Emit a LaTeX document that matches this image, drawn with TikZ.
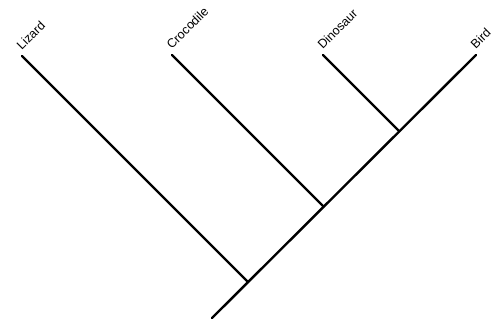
\documentclass[tikz,border=0pt]{standalone}
\usepackage{fontspec}
\setmainfont{Liberation Sans}
\begin{document}
\begin{tikzpicture}[x=1pt,y=-1pt,
  branch/.style={line width=2.4pt,line cap=round},
  taxon/.style={rotate=45,anchor=south west,inner sep=0pt,font=\fontsize{12.5}{14}\selectfont}]
\useasboundingbox (0,0) rectangle (501,325);
% tips
\coordinate (tL) at (22,56);
\coordinate (tC) at (172,55);
\coordinate (tD) at (323,55);
\coordinate (tB) at (476,55);
% internal nodes
\coordinate (nL) at (248,282);
\coordinate (nC) at (323.5,206.5);
\coordinate (nD) at (399,131);
\coordinate (root) at (212,318);
% branches
\draw[branch] (root) -- (tB);
\draw[branch] (tL) -- (nL);
\draw[branch] (tC) -- (nC);
\draw[branch] (tD) -- (nD);
% labels
\node[taxon] (lL) at ([xshift=0pt,yshift=5pt]tL) {Lizard};
\node[taxon] (lC) at ([xshift=0pt,yshift=5pt]tC) {Crocodile};
\node[taxon] (lD) at ([xshift=0pt,yshift=5pt]tD) {Dinosaur};
\node[taxon] (lB) at ([xshift=0pt,yshift=5pt]tB) {Bird};
\end{tikzpicture}
\end{document}
